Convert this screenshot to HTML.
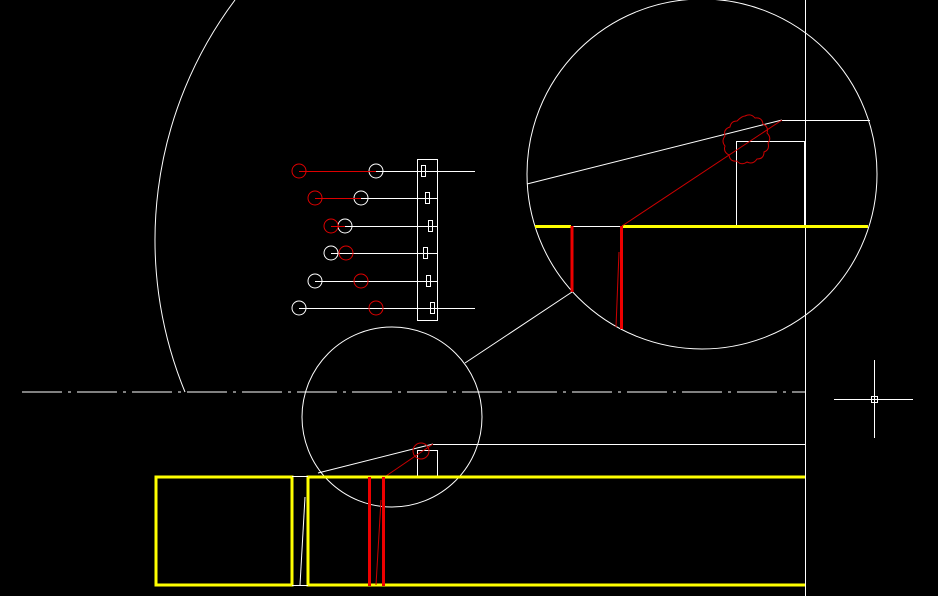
<!DOCTYPE html>
<html><head><meta charset="utf-8"><style>html,body{margin:0;padding:0;background:#000;width:938px;height:596px;overflow:hidden}</style></head>
<body>
<svg width="938" height="596" viewBox="0 0 938 596" xmlns="http://www.w3.org/2000/svg" fill="none" stroke-width="1">
<!-- big arc -->
<path d="M235 0 A400 400 0 0 0 185 392" stroke="#fff"/>
<!-- centerline -->
<line x1="22" y1="392" x2="805" y2="392" stroke="#fff" stroke-dasharray="40 6 3 6"/>
<line x1="805.5" y1="0" x2="805.5" y2="596" stroke="#fff"/>
<!-- crosshair -->
<line x1="834" y1="399.5" x2="913" y2="399.5" stroke="#fff"/>
<line x1="874.5" y1="360" x2="874.5" y2="438" stroke="#fff"/>
<rect x="871.5" y="396.5" width="6" height="6" stroke="#fff"/>
<!-- big circle -->
<circle cx="702" cy="174" r="175" stroke="#fff"/>
<line x1="527" y1="184" x2="782" y2="120" stroke="#fff"/>
<line x1="782" y1="120.5" x2="870" y2="120.5" stroke="#fff"/>
<rect x="736.5" y="141.5" width="68" height="85" stroke="#fff"/>
<line x1="571" y1="226.5" x2="622" y2="226.5" stroke="#fff"/>
<line x1="535" y1="226.5" x2="571" y2="226.5" stroke="#ff0" stroke-width="3"/>
<line x1="622" y1="226.5" x2="868" y2="226.5" stroke="#ff0" stroke-width="3"/>
<line x1="572" y1="226" x2="572" y2="292" stroke="#e00" stroke-width="3"/>
<line x1="621.5" y1="226" x2="621.5" y2="329" stroke="#e00" stroke-width="3"/>
<line x1="619" y1="252" x2="616" y2="327" stroke="#c00"/>
<line x1="622" y1="226" x2="782" y2="120" stroke="#c00"/>
<path d="M745 116 q6 -3 10 2 q7 -1 8 6 q6 3 4 9 q5 5 1 10 q2 7 -4 9 q0 7 -7 7 q-4 6 -10 3 q-6 4 -10 -1 q-7 1 -8 -6 q-6 -3 -4 -9 q-4 -5 0 -10 q-2 -7 5 -9 q1 -6 7 -6 q5 -5 8 -5z" stroke="#c00"/>
<line x1="572" y1="292" x2="465" y2="363" stroke="#fff"/>
<!-- small circle -->
<circle cx="392" cy="417" r="90" stroke="#fff"/>
<line x1="318" y1="473" x2="433" y2="444" stroke="#fff"/>
<line x1="433" y1="444.5" x2="805" y2="444.5" stroke="#fff"/>
<rect x="417.5" y="450.5" width="20" height="26" stroke="#fff"/>
<circle cx="421" cy="451" r="8" stroke="#c00"/>
<line x1="386" y1="476" x2="433" y2="444" stroke="#c00"/>
<!-- bottom yellow -->
<rect x="156" y="477" width="136" height="108" stroke="#ff0" stroke-width="3"/>
<polyline points="805,477 308,477 308,585 805,585" stroke="#ff0" stroke-width="3"/>
<line x1="292" y1="476.5" x2="308" y2="476.5" stroke="#fff"/>
<line x1="292" y1="585.5" x2="308" y2="585.5" stroke="#fff"/>
<line x1="300" y1="585" x2="305" y2="497" stroke="#fff"/>
<line x1="369.5" y1="477" x2="369.5" y2="586" stroke="#e00" stroke-width="3"/>
<line x1="383.5" y1="477" x2="383.5" y2="586" stroke="#e00" stroke-width="3"/>
<line x1="381" y1="500" x2="376" y2="585" stroke="#c00"/>
<!-- cluster -->
<rect x="417.5" y="159.5" width="20" height="161" stroke="#fff"/>
<g stroke="#fff">
<line x1="376" y1="171.5" x2="475" y2="171.5"/>
<line x1="361" y1="198.5" x2="437" y2="198.5"/>
<line x1="345" y1="226.5" x2="437" y2="226.5"/>
<line x1="331" y1="253.5" x2="437" y2="253.5"/>
<line x1="315" y1="281.5" x2="437" y2="281.5"/>
<line x1="299" y1="308.5" x2="475" y2="308.5"/>
<rect x="421.5" y="165.5" width="4" height="11"/>
<rect x="425.5" y="192.5" width="4" height="11"/>
<rect x="428.5" y="220.5" width="4" height="11"/>
<rect x="423.5" y="247.5" width="4" height="11"/>
<rect x="426.5" y="275.5" width="4" height="11"/>
<rect x="430.5" y="302.5" width="4" height="11"/>
<circle cx="376" cy="171" r="7"/>
<circle cx="361" cy="198" r="7"/>
<circle cx="345" cy="226" r="7"/>
<circle cx="331" cy="253" r="7"/>
<circle cx="315" cy="281" r="7"/>
<circle cx="299" cy="308" r="7"/>
</g>
<g stroke="#d00">
<line x1="299" y1="171.5" x2="376" y2="171.5"/>
<line x1="315" y1="198.5" x2="361" y2="198.5"/>
<line x1="331" y1="226.5" x2="345" y2="226.5"/>
<circle cx="299" cy="171" r="7"/>
<circle cx="315" cy="198" r="7"/>
<circle cx="331" cy="226" r="7"/>
<circle cx="346" cy="253" r="7"/>
<circle cx="361" cy="281" r="7"/>
<circle cx="376" cy="308" r="7"/>
</g>
</svg>
</body></html>
